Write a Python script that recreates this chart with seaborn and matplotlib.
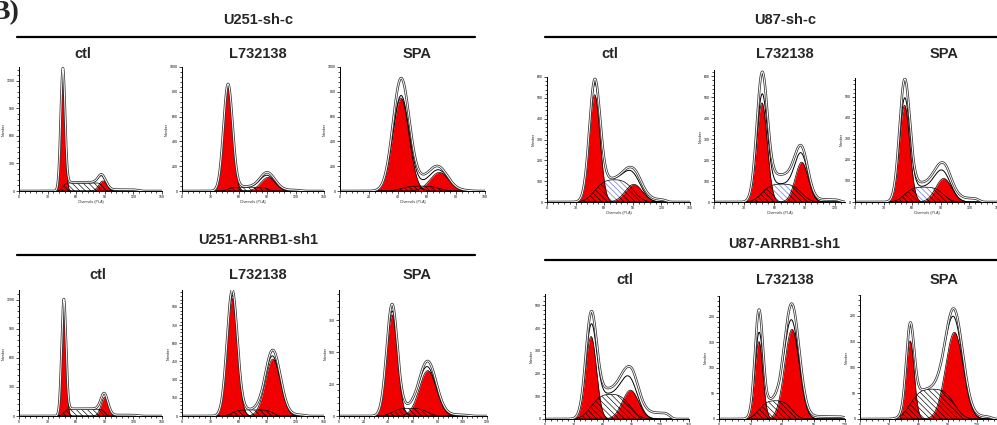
import math
import numpy as np
import seaborn as sns
import matplotlib
matplotlib.use('Agg')
import matplotlib.pyplot as plt
from matplotlib.lines import Line2D
from matplotlib.ticker import MultipleLocator, AutoMinorLocator

sns.set_theme(style='white')
plt.rcParams['font.family'] = ['Liberation Sans', 'DejaVu Sans']
plt.rcParams['hatch.linewidth'] = 0.45

W, H = 997, 425

groups = ['U251-sh-c', 'U87-sh-c', 'U251-ARRB1-sh1', 'U87-ARRB1-sh1']
treatments = ['ctl', 'L732138', 'SPA']

# panels in order: U251-sh-c (3), U87-sh-c (3), U251-ARRB1-sh1 (3), U87-ARRB1-sh1 (3)
x_max = [150, 150, 100, 150, 130, 150, 150, 150, 120, 150, 120, 147]
x_step = [30, 30, 20, 30, 30, 30, 30, 30, 20, 30, 30, 30]
y_max = [1350, 1000, 1000, 600, 630, 590, 1300, 1040, 985, 550, 240, 240]
y_step = [300, 200, 200, 100, 100, 100, 300, 150, 250, 100, 50, 50]

# G1 / G2 peaks (ModFit components) and S phase
g1_mu = [46, 48.6, 42, 50, 47.6, 52, 47, 53, 43, 48, 38, 51.6]
g1_sd = [2.3, 4.8, 5.6, 5.6, 5.2, 5.4, 2.3, 5.5, 4.4, 5.6, 3.8, 4.1]
g1_fit = [1190, 840, 750, 515, 473, 460, 1160, 970, 790, 363, 151, 151]
g1_data = [1290, 843, 870, 535, 555, 540, 1165, 1025, 855, 407, 199, 160]
g2_mu = [88, 91, 68.5, 91, 87, 93, 90, 96, 72, 89, 69.5, 97]
g2_sd = [4.2, 7.8, 6.5, 9.0, 6.4, 8.4, 3.8, 8.0, 7.0, 8.4, 7.0, 9.0]
g2_fit = [110, 110, 150, 85, 190, 112, 195, 470, 355, 127, 175, 168]
g2_data = [115, 128, 155, 100, 197, 132, 183, 525, 405, 150, 208, 184]
s_fit = [88, 30, 40, 108, 86, 71, 70, 50, 60, 110, 36, 58]
s_data = [95, 35, 80, 110, 130, 90, 75, 30, 40, 132, 29, 53]
s_sd = [2.5, 4, 5, 8, 7, 7, 2.5, 5, 5, 8, 6, 8]
tail_h = [15, 8, 5, 12, 12, 18, 10, 10, 10, 27, 5, 5]
tail_end = [125, 125, 90, 125, 125, 130, 125, 130, 105, 130, 120, 135]
hatch_col = ['black'] * 3 + ['#5b6fd6'] * 3 + ['black'] * 6

# layout in pixels
ax_left = [19, 182, 340, 547, 714, 855, 19, 182, 339, 545, 719, 860]
ax_right = [162, 324, 485, 690, 845, 998, 162, 324, 487, 689, 845, 1003]
ax_top = [67, 67, 67, 77, 70, 78, 290, 290, 290, 294, 296, 295]
ax_bot = [191, 191, 191, 202, 202, 202, 416, 416, 416, 419, 419, 419]

erf = np.vectorize(math.erf)


def gauss(x, mu, sd):
    return np.exp(-0.5 * ((x - mu) / sd) ** 2)


def plateau(x, a, b, sd):
    r = sd * math.sqrt(2)
    return 0.5 * (erf((x - a) / r) - erf((x - b) / r))


fig = plt.figure(figsize=(W / 100, H / 100), dpi=100)
fig.patch.set_facecolor('white')
red = '#f00000'
hatch = '\\\\\\\\\\\\'

for i in range(12):
    ax = fig.add_axes([ax_left[i] / W, 1 - ax_bot[i] / H,
                       (ax_right[i] - ax_left[i]) / W, (ax_bot[i] - ax_top[i]) / H])
    x = np.linspace(0, x_max[i], 800)
    g1 = g1_fit[i] * gauss(x, g1_mu[i], g1_sd[i])
    g2 = g2_fit[i] * gauss(x, g2_mu[i], g2_sd[i])
    s = s_fit[i] * plateau(x, g1_mu[i], g2_mu[i], s_sd[i])
    fit = g1 + g2 + s
    data = (g1_data[i] * gauss(x, g1_mu[i], g1_sd[i])
            + g2_data[i] * gauss(x, g2_mu[i], g2_sd[i])
            + s_data[i] * plateau(x, g1_mu[i], g2_mu[i], s_sd[i])
            + tail_h[i] * plateau(x, g2_mu[i], tail_end[i], 3))
    data = np.maximum(data, fit * 1.01)

    ax.fill_between(x, 0, s, facecolor='white', edgecolor=hatch_col[i],
                    hatch=hatch, linewidth=0)
    ax.fill_between(x, 0, g1, color=red, linewidth=0)
    ax.fill_between(x, 0, g2, color=red, linewidth=0)
    ax.fill_between(x, 0, np.minimum(s, np.maximum(g1, g2)), facecolor='none',
                    edgecolor='black', hatch=hatch, linewidth=0)
    for comp in (s, g1, g2):
        sns.lineplot(x=x, y=comp, ax=ax, color='black', lw=0.5, estimator=None, sort=False)
    sns.lineplot(x=x, y=fit, ax=ax, color='black', lw=0.7, estimator=None, sort=False)
    sns.lineplot(x=x, y=data, ax=ax, color='#333333', lw=1.8, estimator=None, sort=False)
    sns.lineplot(x=x, y=data, ax=ax, color='white', lw=0.7, estimator=None, sort=False)

    ax.set_xlim(0, x_max[i])
    ax.set_ylim(0, y_max[i])
    ax.xaxis.set_major_locator(MultipleLocator(x_step[i]))
    ax.yaxis.set_major_locator(MultipleLocator(y_step[i]))
    ax.xaxis.set_minor_locator(AutoMinorLocator(5))
    ax.yaxis.set_minor_locator(AutoMinorLocator(5))
    ax.tick_params(which='both', bottom=True, left=True, direction='out',
                   width=0.5, colors='black', labelsize=2.5, pad=1)
    ax.tick_params(which='major', length=2)
    ax.tick_params(which='minor', length=1.2)
    ax.set_xlabel('Channels (PI-A)', fontsize=2.6, labelpad=0.8)
    ax.set_ylabel('Number', fontsize=2.6, labelpad=1)
    ax.set_facecolor('white')
    sns.despine(ax=ax)
    for sp in ('left', 'bottom'):
        ax.spines[sp].set_linewidth(0.7)
        ax.spines[sp].set_color('black')

# group headers, rules and treatment titles
group_xy = [(258, 20), (785, 20), (258, 240), (784, 244)]
rule_y = [37, 37, 255, 260]
rule_x = [(17, 475), (545, 997), (17, 475), (545, 997)]
title_y = [54, 54, 275, 280]
title_x = [(83, 258, 417), (610, 785, 944), (98, 258, 417), (625, 785, 944)]

for g in range(4):
    fig.text(group_xy[g][0] / W, 1 - group_xy[g][1] / H, groups[g], ha='center',
             va='center', fontsize=10.5, fontweight='bold')
    fig.add_artist(Line2D([rule_x[g][0] / W, rule_x[g][1] / W],
                          [1 - rule_y[g] / H] * 2, color='black', lw=1.6))
    for k in range(3):
        fig.text(title_x[g][k] / W, 1 - title_y[g] / H, treatments[k], ha='center',
                 va='center', fontsize=10.5, fontweight='bold')

fig.text(-8 / W, 1 - 19 / H, 'B)', ha='left', va='baseline', fontsize=20,
         fontweight='bold', family=['Liberation Serif', 'DejaVu Serif'])

fig.savefig('out.png', dpi=100, facecolor='white')
